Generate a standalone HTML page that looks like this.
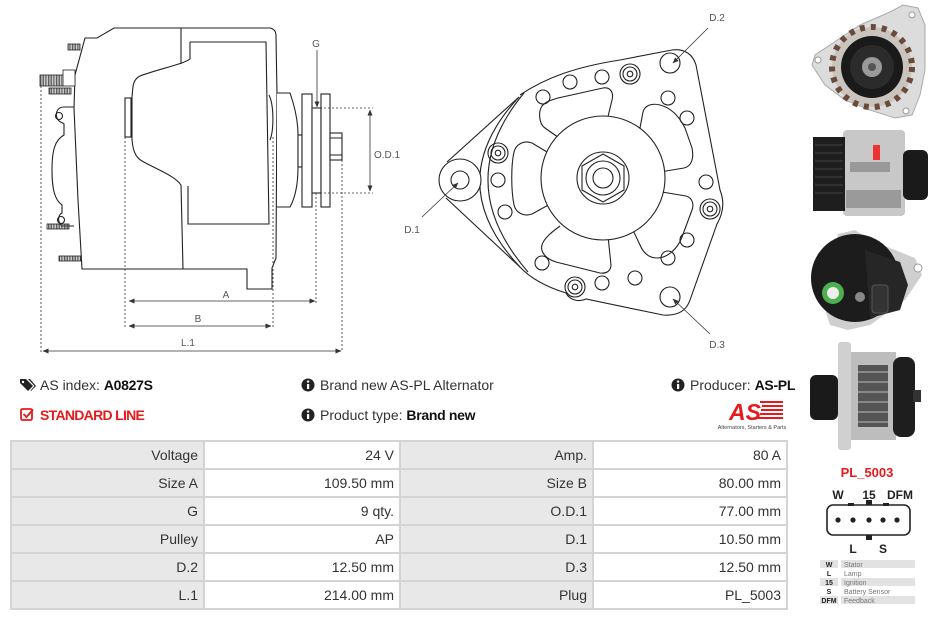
<!DOCTYPE html>
<html><head><meta charset="utf-8">
<style>
*{margin:0;padding:0;box-sizing:border-box}
body{width:935px;height:620px;background:#fff;position:relative;overflow:hidden;font-family:"Liberation Sans",Arial,sans-serif;color:#333}
.t{position:absolute;font-size:14px;white-space:nowrap;line-height:16px}
.grid{position:absolute;left:10px;top:440px;width:778px;height:170px;background:#d4d4d4}
.c{position:absolute;height:26px;line-height:26px;font-size:14px;text-align:right;padding-right:5px;color:#333}
.g{background:#e8e8e8}
.w{background:#fff}
</style></head><body>

<svg width="935" height="620" style="position:absolute;left:0;top:0" xmlns="http://www.w3.org/2000/svg">
<defs>
<marker id="ah" markerWidth="6" markerHeight="6" refX="5.5" refY="3" orient="auto-start-reverse" markerUnits="userSpaceOnUse">
<path d="M0,0.5 L6,3 L0,5.5 z" fill="#333"/></marker>
<pattern id="hatch" width="1.6" height="4" patternUnits="userSpaceOnUse"><rect width="0.9" height="4" fill="#444"/></pattern>
</defs>

<!-- LEFT SIDE VIEW -->
<g fill="none" stroke="#222" stroke-width="1.1">
<path d="M85,38 L97,38 L114,28 L270,28 Q276,29 276,36 L277,95 L276,258 L272,268 L272,289 L247,289 L247,269 L82,269 L78,200 L74,108 L75,75 Z" fill="#fff"/>
<path d="M181,28 L181,64"/>
<path d="M190,42 L266,42 L269,224 L188,224 L188,186"/>
<path d="M190,42 L190,59 C184,64 155,70 140,76 C132,80 133,88 132,97 L132,140 C133,150 135,157 142,161 C158,170 175,176 181,185 L183,269"/>
<rect x="125" y="98" width="6" height="39" fill="#fff"/>
<path d="M269,95 C274,105 274,130 270,140"/>
<path d="M277,93 L290,93 C296,110 298,125 298,135 L298,167 C298,185 295,198 290,207 L277,207" fill="#fff"/>
<rect x="298" y="135" width="4" height="32" fill="#fff"/>
<rect x="302" y="94" width="10" height="113" fill="#fff"/>
<rect x="312" y="108" width="9" height="85" fill="#fff"/>
<rect x="321" y="94" width="9" height="113" fill="#fff"/>
<rect x="330" y="133" width="12" height="27" fill="#fff"/>
<path d="M330,138 L342,138 M330,155 L342,155"/>
<path d="M74,107 L64,107 C58,107 55,112 57,118 C58,122 62,122 64,124 L64,135 C55,140 52,150 52,170 C52,190 55,200 62,205 L62,213 C58,215 57,222 62,226 L74,226"/>
<circle cx="59" cy="116" r="3.5"/>
<circle cx="61" cy="220" r="3.5"/>
</g>
<g stroke="#222" stroke-width="0.8">
<rect x="68" y="44" width="12" height="6" fill="url(#hatch)"/>
<rect x="40" y="75" width="23" height="11" fill="url(#hatch)"/>
<rect x="63" y="70" width="12" height="16" fill="#fff"/>
<rect x="49" y="88" width="22" height="6" fill="url(#hatch)"/>
<rect x="47" y="224" width="22" height="5" fill="url(#hatch)"/>
<rect x="59" y="256" width="22" height="5" fill="url(#hatch)"/>
</g>
<!-- dimension lines -->
<g stroke="#333" stroke-width="0.8" fill="none">
<g stroke-dasharray="2,2">
<path d="M41,86 L41,352 M125,137 L125,328 M273,137 L273,328 M316,193 L316,303 M342,160 L342,352 M312,108 L373,108 M312,193 L373,193"/>
</g>
<path d="M129,301 L315,301" marker-start="url(#ah)" marker-end="url(#ah)"/>
<path d="M129,326 L271,326" marker-start="url(#ah)" marker-end="url(#ah)"/>
<path d="M43,351 L341,351" marker-start="url(#ah)" marker-end="url(#ah)"/>
<path d="M370,110 L370,191" marker-start="url(#ah)" marker-end="url(#ah)"/>
<path d="M317,50 L317,107" marker-end="url(#ah)"/>
</g>
<g font-family="Liberation Sans,sans-serif" font-size="10" fill="#555" text-anchor="middle">
<text x="316" y="47">G</text>
<text x="387" y="158">O.D.1</text>
<text x="226" y="298">A</text>
<text x="198" y="322">B</text>
<text x="188" y="346">L.1</text>
<text x="717" y="21">D.2</text>
<text x="717" y="348">D.3</text>
<text x="412" y="233">D.1</text>
</g>

<!-- FRONT VIEW -->
<g fill="none" stroke="#222" stroke-width="1.1">
<path d="M520,95 C545,78 575,67 620,60 L672,50 C685,48 693,55 696,65 L720,190 C724,200 724,212 717,224 L690,300 C686,312 676,316 663,315 L586,299 C580,302 570,301 566,293 C550,288 532,280 520,267"/>
<path d="M447,162 L519,97"/>
<path d="M446,198 L520,267"/>
<path d="M519,97 Q440,182 520,267"/>
<path d="M524,93 Q450,182 528,272"/>
<circle cx="460" cy="180" r="21" fill="#fff"/>
<circle cx="460" cy="180" r="9"/>
<!-- slots -->
<path d="M562,140 L545,128 C539,124 538,112 542,106 C546,101 552,100 558,98 L603,88 C610,87 614,92 612,100 L606,125"/>
<path d="M640,128 L643,112 C645,105 652,103 660,105 C672,108 680,118 685,128 L692,148 C694,158 692,166 684,168 L660,172"/>
<path d="M662,192 L686,196 C693,198 694,205 692,210 L682,237 C678,248 668,258 657,258 C648,258 643,252 640,245 L632,228"/>
<path d="M608,236 L611,265 C611,271 606,274 600,273 L556,262 C546,259 540,252 542,245 C544,238 552,232 560,226"/>
<path d="M552,155 L532,143 C524,140 516,144 514,152 C511,165 511,190 514,205 C516,213 524,217 532,214 L552,203"/>
<circle cx="603" cy="178" r="62" fill="#fff"/>
<circle cx="603" cy="178" r="26"/>
<path d="M603,154 L624,166 L624,190 L603,202 L582,190 L582,166 Z"/>
<circle cx="603" cy="178" r="17"/>
<circle cx="603" cy="178" r="10"/>
<!-- holes -->
<g>
<circle cx="570" cy="82" r="7"/><circle cx="602" cy="77" r="7"/><circle cx="543" cy="97" r="7"/>
<circle cx="498" cy="180" r="7"/><circle cx="505" cy="212" r="7"/><circle cx="542" cy="263" r="7"/>
<circle cx="602" cy="283" r="7"/><circle cx="635" cy="278" r="7"/><circle cx="668" cy="258" r="7"/>
<circle cx="687" cy="240" r="7"/><circle cx="706" cy="182" r="7"/><circle cx="687" cy="118" r="7"/>
<circle cx="668" cy="98" r="7"/>
</g>
<g>
<circle cx="630" cy="74" r="10"/><circle cx="630" cy="74" r="7"/><circle cx="630" cy="74" r="2.8"/>
<circle cx="498" cy="153" r="10"/><circle cx="498" cy="153" r="7"/><circle cx="498" cy="153" r="2.8"/>
<circle cx="710" cy="209" r="10"/><circle cx="710" cy="209" r="7"/><circle cx="710" cy="209" r="2.8"/>
<circle cx="575" cy="287" r="10"/><circle cx="575" cy="287" r="7"/><circle cx="575" cy="287" r="2.8"/>
</g>
<circle cx="670" cy="63" r="10"/>
<circle cx="670" cy="297" r="10"/>
</g>
<g stroke="#333" stroke-width="0.8" fill="none">
<path d="M708,28 L673,63" marker-end="url(#ah)"/>
<path d="M710,334 L673,299" marker-end="url(#ah)"/>
<path d="M422,217 L458,183" marker-end="url(#ah)"/>
</g>

<!-- PHOTOS -->
<path d="M903,5 L918,8 L925,25 L925,70 L920,95 L912,115 L895,118 L870,110 L845,100 L825,85 L812,65 L815,55 L830,45 L860,25 L890,12 Z" fill="#dcdcdc" stroke="#aaa" stroke-width="1"/>
<circle cx="872" cy="67" r="40" fill="#c9c4be"/>
<circle cx="872" cy="67" r="40" fill="none" stroke="#6a4a3a" stroke-width="6" stroke-dasharray="5,6"/>
<circle cx="872" cy="67" r="31" fill="#1a1a1a"/>
<circle cx="872" cy="67" r="22" fill="#2b2b2b"/>
<circle cx="872" cy="67" r="10" fill="#9a9a9a"/>
<circle cx="872" cy="67" r="4" fill="#555"/>
<circle cx="818" cy="60" r="3" fill="#fff" stroke="#999"/>
<circle cx="906" cy="111" r="3" fill="#fff" stroke="#999"/>
<circle cx="912" cy="15" r="3" fill="#fff" stroke="#999"/>
<rect x="843" y="130" width="62" height="86" rx="4" fill="#c8c8c8"/>
<rect x="850" y="162" width="40" height="10" fill="#999"/>
<rect x="846" y="190" width="55" height="18" fill="#9a9a9a"/>
<rect x="813" y="137" width="32" height="74" fill="#1e1e1e"/>
<g stroke="#444" stroke-width="1"><path d="M815,145 L843,145 M815,153 L843,153 M815,161 L843,161 M815,169 L843,169 M815,177 L843,177 M815,185 L843,185 M815,193 L843,193"/></g>
<rect x="903" y="150" width="25" height="50" rx="6" fill="#1a1a1a"/>
<rect x="873" y="145" width="7" height="15" fill="#e33"/>
<path d="M838,234 L855,230 L870,240 L915,258 L922,275 L905,300 L870,325 L848,330 L830,325 L822,300 Z" fill="#cfcfcf"/>
<circle cx="855" cy="278" r="44" fill="#1c1c1c"/>
<path d="M865,250 L900,262 L908,285 L900,310 L870,318 Z" fill="#262626"/>
<rect x="872" y="285" width="16" height="28" rx="3" fill="#333" stroke="#555"/>
<circle cx="833" cy="293" r="11" fill="#4caf50"/>
<circle cx="833" cy="293" r="6" fill="#eee"/>
<circle cx="860" cy="297" r="5" fill="#888"/>
<circle cx="918" cy="268" r="4" fill="#fff" stroke="#999"/>
<rect x="850" y="352" width="46" height="88" fill="#bdbdbd"/>
<rect x="858" y="365" width="30" height="62" fill="#555"/>
<g stroke="#999" stroke-width="1.5"><path d="M858,372 L888,372 M858,382 L888,382 M858,392 L888,392 M858,402 L888,402 M858,412 L888,412 M858,422 L888,422"/></g>
<rect x="838" y="342" width="13" height="108" rx="3" fill="#d0d0d0"/>
<rect x="810" y="375" width="28" height="45" rx="6" fill="#1a1a1a"/>
<rect x="893" y="357" width="22" height="80" rx="8" fill="#1e1e1e"/>
<rect x="913" y="390" width="8" height="12" fill="#333"/>

<!-- PLUG -->
<text x="867" y="477" font-family="Liberation Sans,sans-serif" font-size="13" font-weight="bold" fill="#e8191b" text-anchor="middle">PL_5003</text>
<g font-family="Liberation Sans,sans-serif" font-size="12" font-weight="bold" fill="#222" text-anchor="middle">
<text x="838" y="499">W</text><text x="869" y="499">15</text><text x="900" y="499">DFM</text>
<text x="853" y="553">L</text><text x="883" y="553">S</text>
</g>
<rect x="827" y="505" width="83" height="30" rx="6" fill="#fff" stroke="#222" stroke-width="1.6"/>
<g fill="#222">
<rect x="848" y="503" width="6" height="3"/><rect x="866" y="500" width="6" height="5"/><rect x="883" y="503" width="6" height="3"/>
<rect x="866" y="535" width="6" height="5"/>
<circle cx="838" cy="520" r="2.6"/><circle cx="853" cy="520" r="2.6"/><circle cx="869" cy="520" r="2.6"/><circle cx="883" cy="520" r="2.6"/><circle cx="897" cy="520" r="2.6"/>
</g>
<g fill="#e2e2e2">
<rect x="820" y="560" width="18" height="8"/><rect x="841" y="560" width="74" height="8"/>
<rect x="820" y="578" width="18" height="8"/><rect x="841" y="578" width="74" height="8"/>
<rect x="820" y="596" width="18" height="8"/><rect x="841" y="596" width="74" height="8"/>
</g>
<g font-family="Liberation Sans,sans-serif" font-size="7">
<g font-weight="bold" fill="#222" text-anchor="middle">
<text x="829" y="567">W</text><text x="829" y="576">L</text><text x="829" y="585">15</text><text x="829" y="594">S</text><text x="829" y="603">DFM</text>
</g>
<g fill="#777">
<text x="844" y="567">Stator</text><text x="844" y="576">Lamp</text><text x="844" y="585">Ignition</text><text x="844" y="594">Battery Sensor</text><text x="844" y="603">Feedback</text>
</g>
</g>

<!-- ICONS -->
<g fill="#222">
<path d="M20,379 L26,379 L33,386 L28,391 L20,383 Z"/>
<circle cx="23" cy="382" r="1.2" fill="#fff"/>
<path d="M28,379 L30,379 L36,386 L31,391 L30.5,390.5 L34.5,386 Z"/>
</g>
<g fill="none" stroke="#e8191b" stroke-width="1.8">
<rect x="21" y="409" width="11" height="11" rx="1.5"/>
<path d="M23.5,414 L26.5,417 L33,409.5"/>
</g>
<g>
<circle cx="308" cy="385" r="6.5" fill="#222"/><rect x="307" y="384" width="2.2" height="5" fill="#fff"/><circle cx="308.1" cy="381.6" r="1.2" fill="#fff"/>
<circle cx="308" cy="415" r="6.5" fill="#222"/><rect x="307" y="414" width="2.2" height="5" fill="#fff"/><circle cx="308.1" cy="411.6" r="1.2" fill="#fff"/>
<circle cx="678" cy="385" r="6.5" fill="#222"/><rect x="677" y="384" width="2.2" height="5" fill="#fff"/><circle cx="678.1" cy="381.6" r="1.2" fill="#fff"/>
</g>
<g fill="#e8191b">
<rect x="760" y="401" width="23" height="2"/><rect x="762" y="405" width="21" height="2"/><rect x="761" y="409" width="22" height="2"/><rect x="760" y="413" width="23" height="2"/><rect x="758" y="417" width="25" height="2"/>
<text x="729" y="420" font-family="Liberation Sans,sans-serif" font-size="23" font-weight="bold" font-style="italic">AS</text>
</g>
<text x="752" y="429" font-family="Liberation Sans,sans-serif" font-size="5.5" fill="#444" text-anchor="middle">Alternators, Starters &amp; Parts</text>
</svg>

<div class="t" style="left:40px;top:377px">AS index: <b style="color:#111;letter-spacing:-0.3px">A0827S</b></div>
<div class="t" style="left:40px;top:407px;color:#e8191b;font-weight:bold;letter-spacing:-0.7px">STANDARD LINE</div>
<div class="t" style="left:320px;top:377px">Brand new AS-PL Alternator</div>
<div class="t" style="left:320px;top:407px">Product type: <b style="color:#111;letter-spacing:-0.3px">Brand new</b></div>
<div class="t" style="left:690px;top:377px;width:100px;text-align:right">Producer: <b style="color:#111;letter-spacing:-0.3px">AS-PL</b></div>

<div class="grid"></div>
<div class="c g" style="left:12px;top:442px;width:191px">Voltage</div>
<div class="c w" style="left:205px;top:442px;width:194px">24 V</div>
<div class="c g" style="left:401px;top:442px;width:191px">Amp.</div>
<div class="c w" style="left:594px;top:442px;width:192px">80 A</div>

<div class="c g" style="left:12px;top:470px;width:191px">Size A</div>
<div class="c w" style="left:205px;top:470px;width:194px">109.50 mm</div>
<div class="c g" style="left:401px;top:470px;width:191px">Size B</div>
<div class="c w" style="left:594px;top:470px;width:192px">80.00 mm</div>

<div class="c g" style="left:12px;top:498px;width:191px">G</div>
<div class="c w" style="left:205px;top:498px;width:194px">9 qty.</div>
<div class="c g" style="left:401px;top:498px;width:191px">O.D.1</div>
<div class="c w" style="left:594px;top:498px;width:192px">77.00 mm</div>

<div class="c g" style="left:12px;top:526px;width:191px">Pulley</div>
<div class="c w" style="left:205px;top:526px;width:194px">AP</div>
<div class="c g" style="left:401px;top:526px;width:191px">D.1</div>
<div class="c w" style="left:594px;top:526px;width:192px">10.50 mm</div>

<div class="c g" style="left:12px;top:554px;width:191px">D.2</div>
<div class="c w" style="left:205px;top:554px;width:194px">12.50 mm</div>
<div class="c g" style="left:401px;top:554px;width:191px">D.3</div>
<div class="c w" style="left:594px;top:554px;width:192px">12.50 mm</div>

<div class="c g" style="left:12px;top:582px;width:191px">L.1</div>
<div class="c w" style="left:205px;top:582px;width:194px">214.00 mm</div>
<div class="c g" style="left:401px;top:582px;width:191px">Plug</div>
<div class="c w" style="left:594px;top:582px;width:192px">PL_5003</div>

</body></html>
